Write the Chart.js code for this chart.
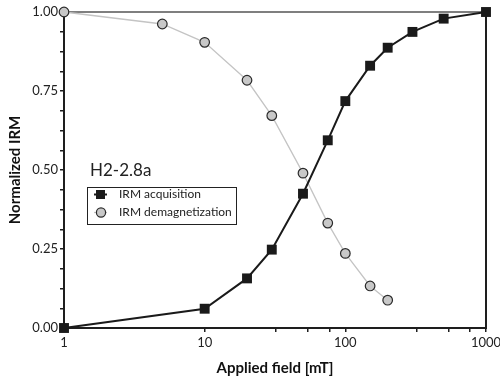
<!DOCTYPE html>
<html>
<head>
<meta charset="utf-8">
<script src="https://cdn.jsdelivr.net/npm/chart.js@4/dist/chart.umd.min.js"></script>
<style>
  html, body { margin: 0; padding: 0; background: #fff; }
  #wrap { width: 500px; height: 377px; }
</style>
</head>
<body>
<div id="wrap"><canvas id="chart" width="500" height="377"></canvas></div>
<script>
// Applied field steps [mT] and normalized IRM values
const acqFields = [1, 10, 20, 30, 50, 75, 100, 150, 200, 300, 500, 1000];
const acqValues = [0, 0.061, 0.157, 0.248, 0.425, 0.594, 0.718, 0.83, 0.887, 0.937, 0.979, 1.0];
const demFields = [1, 5, 10, 20, 30, 50, 75, 100, 150, 200];
const demValues = [1.0, 0.962, 0.904, 0.784, 0.672, 0.49, 0.332, 0.236, 0.133, 0.088];

// Axis ticks
const xMajorTicks = [1, 10, 100, 1000];
const xMinorTicks = [32, 54, 77, 320, 540, 770];
const yLabelTicks = [0, 0.25, 0.5, 0.75, 1.0];

const sampleName = 'H2-2.8a';
const seriesNames = ['IRM acquisition', 'IRM demagnetization'];

const FONT = 'Lato, "Open Sans", sans-serif';
const AXIS = '#1e1e1e';

// top + right border of the plot box
const framePlugin = {
  id: 'frame',
  beforeDatasetsDraw(chart) {
    const { ctx, chartArea: a } = chart;
    ctx.save();
    ctx.lineCap = 'square';
    ctx.strokeStyle = '#555';
    ctx.lineWidth = 1.5;
    ctx.beginPath();
    ctx.moveTo(a.left, a.top);
    ctx.lineTo(a.right, a.top);
    ctx.stroke();
    ctx.strokeStyle = AXIS;
    ctx.lineWidth = 2;
    ctx.beginPath();
    ctx.moveTo(a.right, a.top);
    ctx.lineTo(a.right, a.bottom);
    ctx.stroke();
    ctx.restore();
  }
};

// sample label + boxed legend inside the plot
const legendPlugin = {
  id: 'innerLegend',
  afterDraw(chart) {
    const { ctx, chartArea: a } = chart;
    const x0 = a.left + 23, y0 = a.top + 175;
    ctx.save();
    ctx.fillStyle = '#222';
    ctx.font = '17px ' + FONT;
    ctx.textBaseline = 'alphabetic';
    ctx.fillText(sampleName, x0 + 3, y0 - 11);

    ctx.strokeStyle = '#222';
    ctx.lineWidth = 1;
    ctx.strokeRect(x0 + 0.5, y0 + 0.5, 149, 37);

    const ds = chart.data.datasets;
    const rows = [y0 + 7.5, y0 + 25.5];
    rows.forEach((ry, i) => {
      const d = ds[i];
      ctx.strokeStyle = d.borderColor;
      ctx.lineWidth = d.borderWidth;
      ctx.beginPath();
      ctx.moveTo(x0 + 7, ry);
      ctx.lineTo(x0 + 20, ry);
      ctx.stroke();
      if (i === 0) {
        ctx.fillStyle = d.pointBackgroundColor;
        ctx.fillRect(x0 + 9, ry - 4.5, 9, 9);
      } else {
        ctx.fillStyle = d.pointBackgroundColor;
        ctx.strokeStyle = d.pointBorderColor;
        ctx.lineWidth = d.pointBorderWidth;
        ctx.beginPath();
        ctx.arc(x0 + 14, ry, 4.6, 0, Math.PI * 2);
        ctx.fill();
        ctx.stroke();
      }
      ctx.fillStyle = '#222';
      ctx.font = '12px ' + FONT;
      ctx.textBaseline = 'middle';
      ctx.fillText(d.label, x0 + 32, ry);
    });
    ctx.restore();
  }
};

const ctx = document.getElementById('chart').getContext('2d');
const chart = new Chart(ctx, {
  type: 'line',
  data: {
    datasets: [{
      label: seriesNames[0],
      data: acqFields.map((f, i) => ({ x: f, y: acqValues[i] })),
      borderColor: '#1a1a1a',
      borderWidth: 2,
      pointStyle: 'rect',
      pointRadius: 7,
      pointBackgroundColor: '#1a1a1a',
      pointBorderColor: '#1a1a1a',
      pointBorderWidth: 0,
      clip: false
    }, {
      label: seriesNames[1],
      data: demFields.map((f, i) => ({ x: f, y: demValues[i] })),
      borderColor: '#c4c4c4',
      borderWidth: 1.3,
      pointStyle: 'circle',
      pointRadius: 4.8,
      pointBackgroundColor: '#c8c8c8',
      pointBorderColor: '#2a2a2a',
      pointBorderWidth: 1.2,
      clip: false
    }]
  },
  options: {
    animation: false,
    responsive: false,
    events: [],
    layout: { padding: { top: 12, right: 14, left: 0, bottom: 0 } },
    plugins: { legend: { display: false }, tooltip: { enabled: false } },
    scales: {
      x: {
        type: 'logarithmic',
        min: 1,
        max: 1000,
        afterBuildTicks: (scale) => {
          scale.ticks = xMajorTicks.concat(xMinorTicks).sort((a, b) => a - b).map(v => ({ value: v }));
        },
        afterFit: (scale) => {
          scale.height = 49;
          scale.paddingLeft = 0;
          scale.paddingRight = 0;
        },
        ticks: {
          autoSkip: false,
          maxRotation: 0,
          padding: 3,
          color: '#222',
          font: { family: FONT, size: 13 },
          callback: (v) => xMajorTicks.includes(v) ? String(v) : ''
        },
        grid: { drawOnChartArea: false, drawTicks: true, tickLength: 4, color: AXIS, lineWidth: 1.5 },
        border: { display: true, color: AXIS, width: 2 },
        title: {
          display: true,
          text: 'Applied field [mT]',
          color: '#111',
          font: { family: FONT, size: 15, weight: 'bold' },
          padding: { top: 5, bottom: 0 }
        }
      },
      y: {
        type: 'linear',
        min: 0,
        max: 1,
        afterFit: (scale) => {
          scale.width = 64;
          scale.paddingTop = 0;
          scale.paddingBottom = 0;
        },
        ticks: {
          stepSize: 0.0625,
          autoSkip: false,
          padding: 2,
          color: '#222',
          font: { family: FONT, size: 13 },
          callback: (v) => yLabelTicks.includes(v) ? v.toFixed(2) : ''
        },
        grid: { drawOnChartArea: false, drawTicks: true, tickLength: 4, color: AXIS, lineWidth: 1.5 },
        border: { display: true, color: AXIS, width: 2 },
        title: {
          display: true,
          text: 'Normalized IRM',
          color: '#111',
          font: { family: FONT, size: 15, weight: 'bold' },
          padding: { top: 6, bottom: 0 }
        }
      }
    }
  },
  plugins: [framePlugin, legendPlugin]
});
</script>
</body>
</html>
